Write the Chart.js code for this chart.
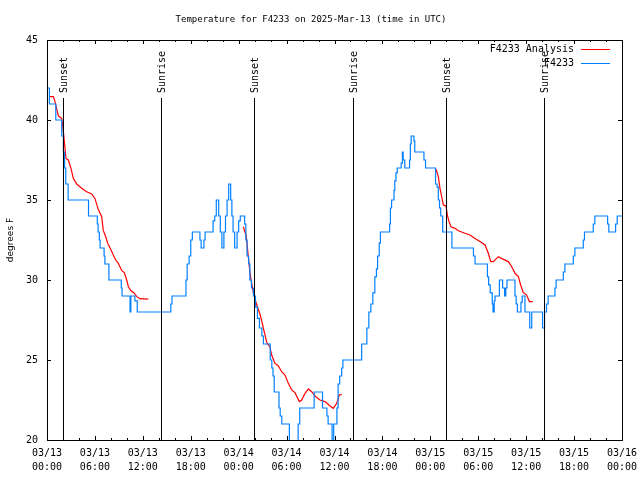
<!DOCTYPE html>
<html>
<head>
<meta charset="utf-8">
<script src="https://cdn.jsdelivr.net/npm/chart.js"></script>
<style>
body { margin: 0; background: #fff; }
</style>
</head>
<body>
<canvas id="grafico" width="640" height="480"></canvas>
<script>
// hours since 03/13 00:00 UTC
const obsHours = [0.1, 0.3, 1.1, 1.85, 2.05, 2.2, 2.35, 2.65, 5.2, 6.3, 6.4, 6.55, 6.65, 7.15, 7.25, 7.75,
  9.3, 9.4, 10.4, 10.5, 11.0, 11.3, 15.5, 15.65, 17.4, 17.55, 17.8, 18.0, 18.2, 19.15, 19.3, 19.65, 19.8,
  20.8, 21.0, 21.2, 21.5, 21.7, 21.9, 22.15, 22.35, 22.55, 22.75, 23.0, 23.15, 23.3, 23.5, 23.8, 24.0, 24.2,
  24.75, 24.9, 25.05, 25.25, 25.4, 25.6, 25.85, 26.1, 26.35, 26.6, 26.9, 27.1, 27.95, 28.15, 28.3, 28.45,
  29.05, 29.2, 29.4, 30.35, 31.45, 31.65, 33.45, 34.5, 35.05, 35.2, 35.7, 35.9, 36.3, 36.45, 36.65, 36.9,
  37.05, 39.4, 40.05, 40.3, 40.55, 40.8, 41.05, 41.25, 41.4, 41.6, 41.75, 42.9, 43.0, 43.15, 43.45, 43.55,
  43.7, 43.85, 44.35, 44.5, 44.6, 44.8, 45.4, 45.5, 45.6, 45.95, 46.05, 47.2, 47.4, 48.65, 48.85, 49.0,
  49.15, 49.3, 49.55, 50.7, 53.4, 53.6, 55.15, 55.3, 55.5, 55.75, 55.85, 56.0, 56.1, 56.65, 57.05, 57.3,
  57.45, 57.6, 58.6, 58.75, 58.9, 59.35, 59.5, 59.85, 60.45, 60.7, 62.05, 62.3, 62.55, 62.75, 63.6, 63.75,
  64.65, 64.85, 65.9, 66.1, 67.15, 67.3, 68.4, 68.6, 70.2, 70.35, 71.2, 71.4, 72]
const obsTemps = [42, 41, 40, 39, 38, 37, 36, 35, 34, 33.5, 33, 32.5, 32, 31.5, 31, 30,
  29.5, 29, 28, 29, 28.7, 28, 28.5, 29, 30, 31, 31.5, 32.5, 33, 32.5, 32, 32.5, 33,
  33.7, 34, 35, 34, 33, 32, 33, 34, 35, 36, 35, 34, 33, 32, 33, 33.7, 34,
  33.5, 32.5, 31.5, 31, 30, 29.5, 29, 28.3, 27.6, 27, 26.5, 26, 25, 24.5, 24, 23,
  22, 21.5, 21, 19, 21, 22, 23, 22, 21.5, 21, 19, 21, 22, 23.5, 24, 24.5,
  25, 26, 27, 28, 28.5, 29.2, 30.2, 30.7, 31.5, 32.3, 33, 33.5, 34.5, 35, 35.6, 36.2,
  36.7, 37, 37.3, 38, 37.5, 37, 37.5, 38.5, 39, 38.7, 38, 37.5, 37, 36, 35.8, 35,
  34.5, 34, 33, 32, 31.5, 31, 30.2, 29.7, 29.2, 28.5, 28, 28.7, 29, 30, 29.5, 29,
  29.5, 30, 29, 28.5, 28, 28.6, 29, 28, 27, 28, 27, 28, 28.5, 29, 29.5, 30,
  30.5, 31, 31.5, 32, 32.5, 33, 33.5, 34, 33.5, 33, 33.5, 34, 34]

const anaHours = [0.38, 0.8, 1.0, 1.42, 1.84, 2.05, 2.38, 2.67, 3.0, 3.3, 3.72, 4.34, 4.97, 5.6, 6.0,
  6.43, 6.85, 7.05, 7.35, 7.6, 7.9, 8.3, 8.6, 8.93, 9.35, 9.68, 9.98, 10.19, 10.52, 10.94, 11.23, 11.65, 12.69,
  18,
  24.58, 24.92, 25.08, 25.25, 25.42, 25.63, 25.84, 26.26, 26.67, 26.88, 27.09, 27.3, 27.51, 27.92, 28.13,
  28.55, 28.97, 29.38, 29.8, 30.22, 30.64, 31.05, 31.6, 31.89, 32.31, 32.73, 33.14, 33.56, 34.18, 34.81,
  35.44, 35.85, 36.27, 36.6, 36.9,
  42,
  48.71, 49.0, 49.21, 49.42, 49.63, 49.96, 50.13, 50.34, 50.59, 51.09, 51.5, 52.34, 52.97, 53.59, 54.22,
  54.85, 55.26, 55.56, 55.89, 56.51, 57.14, 57.77, 58.19, 58.6, 59.02, 59.31, 59.64, 60.06, 60.4, 60.82]
const anaTemps = [41.46, 41.46, 41.15, 40.25, 40.1, 39.27, 37.6, 37.5, 36.98, 36.35, 36.0, 35.73, 35.52, 35.38, 35.1,
  34.4, 33.96, 33.1, 32.7, 32.3, 32.0, 31.56, 31.25, 31.04, 30.6, 30.46, 30.0, 29.58, 29.33, 29.17, 28.96, 28.83, 28.8,
  null,
  33.33, 32.8, 32.08, 31.25, 30.42, 29.79, 29.2, 28.45, 27.86, 27.45, 27.0, 26.56, 26.1, 25.8, 25.31,
  24.79, 24.63, 24.27, 24.06, 23.54, 23.13, 22.96, 22.4, 22.5, 22.92, 23.19, 23.02, 22.75, 22.5, 22.4,
  22.13, 21.98, 22.29, 22.81, 22.85,
  null,
  36.94, 36.46, 35.73, 35.21, 34.69, 34.63, 34.06, 33.65, 33.33, 33.23, 33.08, 32.92, 32.81, 32.6, 32.4,
  32.19, 31.67, 31.15, 31.15, 31.46, 31.29, 31.15, 30.83, 30.42, 30.21, 29.69, 29.21, 29.06, 28.65, 28.65]

const eventHours = [2.0, 14.28, 25.92, 38.3, 49.96, 62.23]
const eventLabels = ['Sunset', 'Sunrise', 'Sunset', 'Sunrise', 'Sunset', 'Sunrise']

const tickDates = ['03/13', '03/13', '03/13', '03/13', '03/14', '03/14', '03/14', '03/14', '03/15', '03/15', '03/15', '03/15', '03/16']
const tickTimes = ['00:00', '06:00', '12:00', '18:00', '00:00', '06:00', '12:00', '18:00', '00:00', '06:00', '12:00', '18:00', '00:00']

function pontos(xs, ys) {
  return xs.map((h, i) => ({ x: h, y: ys[i] }))
}

Chart.defaults.font.family = 'DejaVu Sans Mono'
Chart.defaults.font.size = 10
Chart.defaults.color = '#000'

// gnuplot style: frame with inward ticks on all sides
const moldura = {
  id: 'moldura',
  afterDatasetsDraw(chart) {
    const { ctx, chartArea: a, scales: { x, y } } = chart
    ctx.save()
    ctx.strokeStyle = '#000'
    ctx.lineWidth = 1
    ctx.beginPath()
    x.ticks.forEach(t => {
      const px = Math.round(x.getPixelForValue(t.value)) + 0.5
      const len = t.value % 6 === 0 ? 4 : 2
      ctx.moveTo(px, a.bottom); ctx.lineTo(px, a.bottom - len)
      ctx.moveTo(px, a.top); ctx.lineTo(px, a.top + len)
    })
    y.ticks.forEach(t => {
      const py = Math.round(y.getPixelForValue(t.value)) + 0.5
      ctx.moveTo(a.left, py); ctx.lineTo(a.left + 4, py)
      ctx.moveTo(a.right, py); ctx.lineTo(a.right - 4, py)
    })
    ctx.stroke()
    ctx.strokeRect(Math.round(a.left) + 0.5, Math.round(a.top) + 0.5, Math.round(a.right - a.left), Math.round(a.bottom - a.top))

    // sunrise / sunset lines
    ctx.font = '10px "DejaVu Sans Mono"'
    ctx.fillStyle = '#000'
    eventHours.forEach((h, i) => {
      const px = Math.round(x.getPixelForValue(h)) + 0.5
      ctx.beginPath()
      ctx.moveTo(px, a.top + 58)
      ctx.lineTo(px, a.bottom)
      ctx.stroke()
      ctx.save()
      ctx.translate(px + 1, a.top + 53)
      ctx.rotate(-Math.PI / 2)
      ctx.textAlign = 'left'
      ctx.textBaseline = 'middle'
      ctx.fillText(eventLabels[i], 0, 0)
      ctx.restore()
    })

    // legend, text on the left of the sample
    ctx.textAlign = 'right'
    ctx.textBaseline = 'middle'
    chart.data.datasets.forEach((ds, i) => {
      const ly = a.top + 9 + i * 14
      ctx.fillStyle = '#000'
      ctx.fillText(ds.label, a.right - 48, ly)
      ctx.strokeStyle = ds.borderColor
      ctx.beginPath()
      ctx.moveTo(a.right - 41, ly + 0.5)
      ctx.lineTo(a.right - 12, ly + 0.5)
      ctx.stroke()
    })
    ctx.restore()
  }
}

new Chart(document.getElementById('grafico'), {
  type: 'line',
  data: {
    datasets: [{
      label: 'F4233 Analysis',
      data: pontos(anaHours, anaTemps),
      borderColor: 'rgb(255, 0, 0)',
      borderWidth: 1.2,
      pointRadius: 0,
      tension: 0,
      spanGaps: false,
      order: 1
    },
    {
      label: 'F4233',
      data: pontos(obsHours, obsTemps),
      borderColor: 'rgb(0, 128, 255)',
      borderWidth: 1.2,
      pointRadius: 0,
      stepped: 'before',
      order: 0
    }]
  },
  options: {
    responsive: false,
    animation: false,
    devicePixelRatio: 1,
    layout: { padding: { left: 0, right: 18, top: 0, bottom: 0 } },
    plugins: {
      legend: { display: false },
      tooltip: { enabled: false },
      title: {
        display: true,
        text: 'Temperature for F4233 on 2025-Mar-13 (time in UTC)',
        font: { size: 9, weight: 'normal' },
        color: '#000',
        padding: { top: 14, bottom: 15.2 }
      }
    },
    scales: {
      x: {
        type: 'linear',
        min: 0,
        max: 72,
        grid: { display: false, drawTicks: false },
        border: { display: false },
        afterFit(s) {
          s.height = 40
          s.paddingLeft = 0
          s.paddingRight = 0
        },
        ticks: {
          stepSize: 2,
          autoSkip: false,
          maxRotation: 0,
          padding: 6,
          font: { size: 10, lineHeight: 1.4 },
          callback(v) {
            if (v % 6 !== 0) return ''
            const i = v / 6
            return [tickDates[i], tickTimes[i]]
          }
        }
      },
      y: {
        min: 20,
        max: 45,
        grid: { display: false, drawTicks: false },
        border: { display: false },
        afterFit(s) { s.width = 47 },
        ticks: { stepSize: 5, padding: 9, font: { size: 10 } },
        title: {
          display: true,
          text: 'degrees F',
          font: { family: 'DejaVu Sans', size: 9 },
          padding: { top: 5, bottom: 0 }
        }
      }
    }
  },
  plugins: [moldura]
})
</script>
</body>
</html>
